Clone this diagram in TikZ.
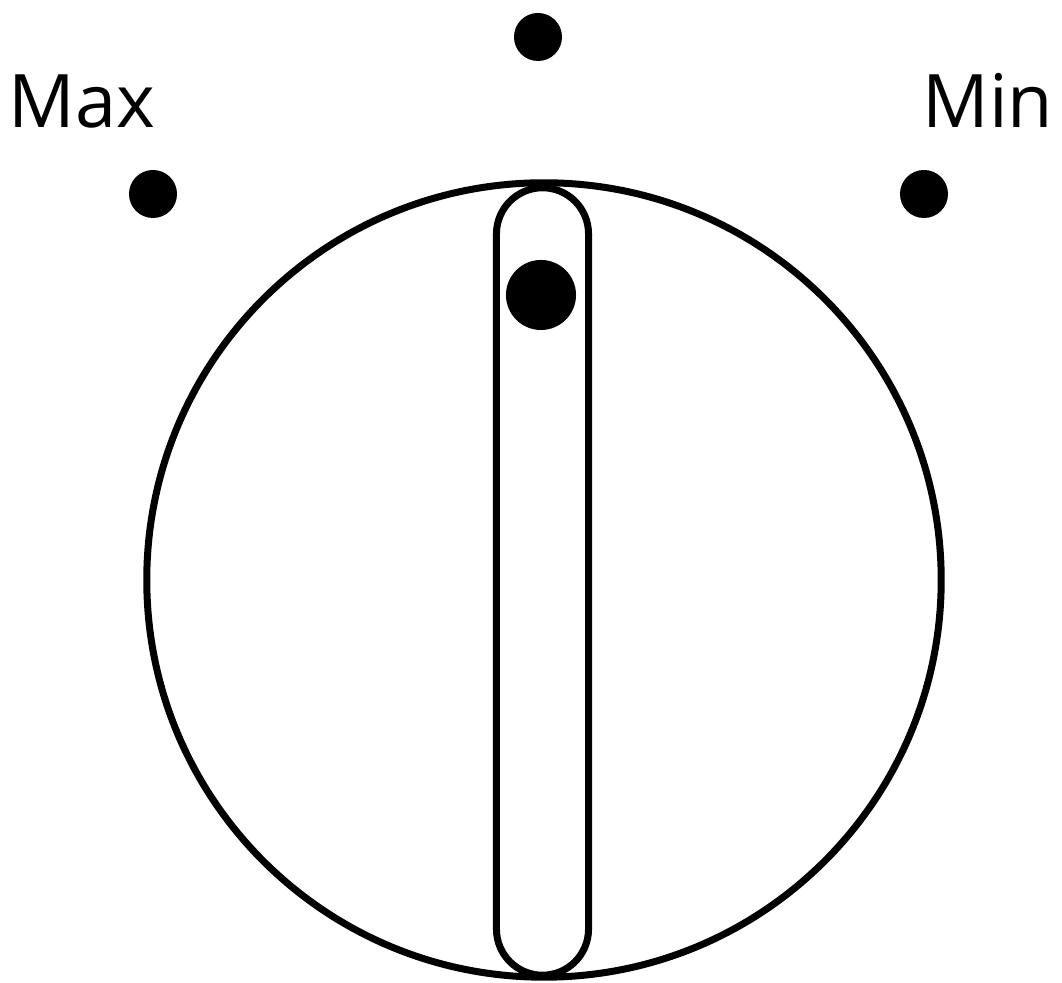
\documentclass[tikz,border=0pt]{standalone}
\usepackage{fontspec}
\setmainfont{Open Sans}
\usetikzlibrary{positioning}

\begin{document}
\begin{tikzpicture}[x=0.01cm,y=-0.01cm,
  dot/.style={circle,fill=black,inner sep=0pt,minimum size=0.48cm},
  knob/.style={draw,circle,line width=0.07cm,inner sep=0pt,minimum size=7.94cm},
  slot/.style={draw,fill=white,line width=0.07cm,rounded corners=0.46cm,
               inner sep=0pt,minimum width=0.92cm,minimum height=7.87cm},
  lbl/.style={inner sep=0pt,font=\fontsize{21}{25}\selectfont}]
  \useasboundingbox (0,0) rectangle (1062,983);
  \node[knob] (knob) at (544,580) {};
  \node[slot] (slot) at (542.5,581.5) {};
  \node[dot,minimum size=0.70cm] (mark) at (541,295) {};
  % scale marks
  \node[dot] (dmid) at (538,37) {};
  \node[dot] (dmax) at (153,194) {};
  \node[dot] (dmin) at (924,194) {};
  \node[lbl,anchor=base west] (max) at (8,128) {Max};
  \node[lbl,anchor=base east] (min) at (1054,128) {Min};
\end{tikzpicture}
\end{document}
